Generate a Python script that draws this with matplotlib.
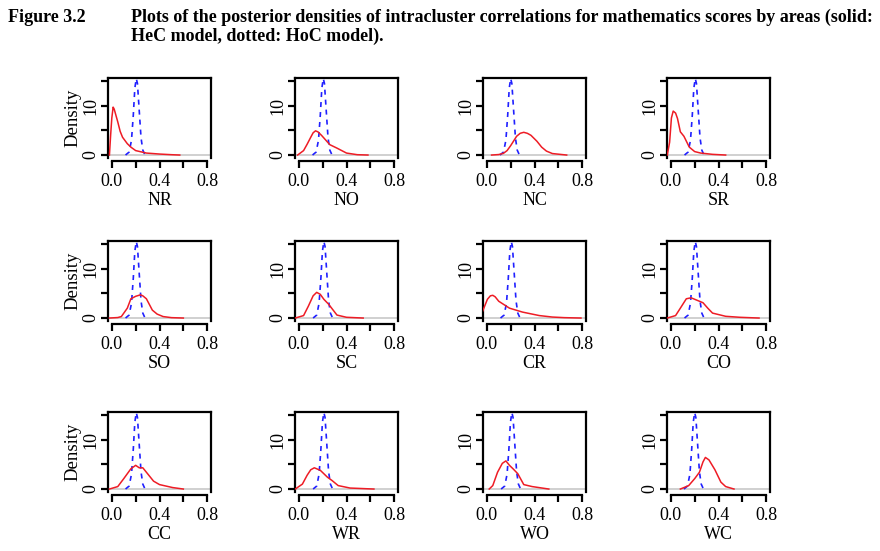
import matplotlib
matplotlib.use("Agg")
import matplotlib.pyplot as plt

plt.rcParams['font.family'] = ['Liberation Serif', 'DejaVu Serif']

# panel names (row by row)
areas = ["NR", "NO", "NC", "SR", "SO", "SC", "CR", "CO", "CC", "WR", "WO", "WC"]

# HeC model (solid red) densities
NR_x = [-0.02, -0.01, 0.0, 0.011, 0.02, 0.05, 0.07, 0.09, 0.13, 0.16, 0.2, 0.29, 0.4, 0.5, 0.57]
NR_y = [0.0, 4.0, 7.5, 9.7, 9.3, 6.7, 4.8, 3.6, 2.3, 1.6, 0.9, 0.4, 0.2, 0.07, 0.0]
NO_x = [-0.01, 0.04, 0.07, 0.1, 0.12, 0.14, 0.16, 0.19, 0.26, 0.32, 0.4, 0.49, 0.58]
NO_y = [0.0, 0.9, 2.2, 3.6, 4.5, 4.9, 4.7, 4.0, 2.1, 1.4, 0.4, 0.07, 0.0]
NC_x = [0.04, 0.1, 0.14, 0.17, 0.2, 0.25, 0.28, 0.31, 0.34, 0.37, 0.42, 0.46, 0.5, 0.55, 0.67]
NC_y = [0.0, 0.1, 0.35, 0.9, 1.9, 3.8, 4.4, 4.6, 4.4, 4.0, 2.8, 1.6, 0.8, 0.3, 0.0]
SR_x = [-0.03, -0.01, 0.005, 0.02, 0.04, 0.056, 0.08, 0.11, 0.155, 0.2, 0.25, 0.35, 0.46]
SR_y = [0.0, 2.6, 7.5, 8.9, 8.5, 7.4, 4.7, 3.8, 1.6, 0.7, 0.4, 0.14, 0.0]
SO_x = [-0.02, 0.05, 0.08, 0.13, 0.16, 0.2, 0.24, 0.26, 0.29, 0.34, 0.38, 0.43, 0.5, 0.6]
SO_y = [0.0, 0.1, 0.3, 2.0, 3.9, 4.4, 4.7, 4.5, 3.9, 1.6, 0.8, 0.3, 0.08, 0.0]
SC_x = [-0.03, 0.04, 0.08, 0.12, 0.15, 0.18, 0.21, 0.25, 0.32, 0.4, 0.54]
SC_y = [0.0, 0.5, 2.4, 4.5, 5.2, 4.8, 3.8, 2.8, 0.6, 0.15, 0.0]
CR_x = [-0.035, 0.005, 0.03, 0.05, 0.07, 0.1, 0.19, 0.3, 0.44, 0.55, 0.65, 0.79]
CR_y = [1.4, 3.8, 4.5, 4.6, 4.3, 3.4, 2.0, 1.2, 0.5, 0.2, 0.08, 0.0]
CO_x = [-0.03, 0.04, 0.08, 0.13, 0.17, 0.22, 0.27, 0.31, 0.35, 0.46, 0.58, 0.74]
CO_y = [0.0, 0.5, 2.0, 3.9, 4.1, 3.6, 3.1, 2.0, 1.0, 0.35, 0.15, 0.0]
CC_x = [-0.02, 0.05, 0.1, 0.16, 0.2, 0.23, 0.26, 0.31, 0.35, 0.4, 0.51, 0.6]
CC_y = [0.0, 0.5, 2.1, 4.1, 4.8, 4.3, 4.3, 2.8, 1.6, 0.9, 0.3, 0.0]
WR_x = [-0.03, 0.03, 0.07, 0.1, 0.13, 0.18, 0.24, 0.28, 0.33, 0.43, 0.63]
WR_y = [0.0, 1.0, 2.8, 3.9, 4.3, 3.8, 2.4, 1.7, 0.7, 0.2, 0.0]
WO_x = [0.02, 0.05, 0.09, 0.13, 0.16, 0.19, 0.22, 0.26, 0.31, 0.38, 0.52]
WO_y = [0.0, 0.7, 3.4, 5.2, 5.7, 4.8, 4.1, 3.1, 0.9, 0.5, 0.0]
WC_x = [0.08, 0.15, 0.2, 0.24, 0.27, 0.29, 0.32, 0.37, 0.42, 0.46, 0.53]
WC_y = [0.0, 0.7, 2.1, 3.4, 5.5, 6.4, 5.9, 3.9, 1.4, 0.5, 0.0]

hec_x = [NR_x, NO_x, NC_x, SR_x, SO_x, SC_x, CR_x, CO_x, CC_x, WR_x, WO_x, WC_x]
hec_y = [NR_y, NO_y, NC_y, SR_y, SO_y, SC_y, CR_y, CO_y, CC_y, WR_y, WO_y, WC_y]

# HoC model (dotted blue) densities: same height profile, peak near 0.2
hoc_y = [0.0, 0.6, 3.0, 8.0, 13.5, 15.5, 14.5, 9.0, 3.5, 1.0, 0.2, 0.0]
hoc_x_200 = [0.11, 0.14, 0.16, 0.175, 0.188, 0.20, 0.21, 0.225, 0.24, 0.255, 0.27, 0.29]
hoc_x_205 = [0.115, 0.145, 0.165, 0.18, 0.193, 0.205, 0.215, 0.23, 0.245, 0.26, 0.275, 0.295]
hoc_x_210 = [0.12, 0.15, 0.17, 0.185, 0.198, 0.21, 0.22, 0.235, 0.25, 0.265, 0.28, 0.30]
hoc_x = [hoc_x_205, hoc_x_205, hoc_x_200, hoc_x_205, hoc_x_205, hoc_x_210,
         hoc_x_205, hoc_x_205, hoc_x_205, hoc_x_210, hoc_x_210, hoc_x_200]

x_ticks = [0.0, 0.2, 0.4, 0.6, 0.8]
x_labels = ["0.0", "", "0.4", "", "0.8"]
y_ticks = [0, 5, 10, 15]
y_labels = ["0", "", "10", ""]

W, H = 880, 551
fig = plt.figure(figsize=(W / 100, H / 100), dpi=100)

col_left = [108, 295, 483, 667]
row_top = [78, 241, 412]
box_w, box_h = 103, 80

for i, name in enumerate(areas):
    r, c = divmod(i, 4)
    ax = fig.add_axes([col_left[c] / W, 1 - (row_top[r] + box_h) / H, box_w / W, box_h / H])
    ax.axhline(0, color="#c8c8c8", lw=1.2, zorder=1)
    ax.plot(hoc_x[i], hoc_y, color="#2020ff", lw=1.2,
            linestyle=(0, (3, 3)), zorder=2)
    ax.plot(hec_x[i], hec_y[i], color="#ee1c25", lw=1.1, zorder=3)
    ax.set_xlim(-0.032, 0.832)
    ax.set_ylim(-0.6, 15.6)
    for s in ["left", "top", "right", "bottom"]:
        ax.spines[s].set_linewidth(1.6)
    ax.spines["bottom"].set_position(("outward", 2))
    ax.spines["bottom"].set_bounds(0, 0.8)
    ax.set_xticks(x_ticks)
    ax.set_xticklabels(x_labels)
    ax.set_yticks(y_ticks)
    ax.set_yticklabels(y_labels, rotation=90, va="center")
    ax.tick_params(width=1.6, length=5, labelsize=13, pad=4)
    ax.tick_params(axis="y", pad=1)
    ax.set_xlabel(name, fontsize=13, labelpad=1)
    if c == 0:
        ax.set_ylabel("Density", fontsize=13.5, labelpad=1)

title_kw = dict(fontsize=13, fontweight="bold")
fig.text(8 / W, 1 - 22 / H, "Figure 3.2", **title_kw)
fig.text(131 / W, 1 - 22 / H,
         "Plots of the posterior densities of intracluster correlations for mathematics scores by areas (solid:",
         **title_kw)
fig.text(131 / W, 1 - 41 / H, "HeC model, dotted: HoC model).", **title_kw)

fig.savefig("out.png", dpi=100)
